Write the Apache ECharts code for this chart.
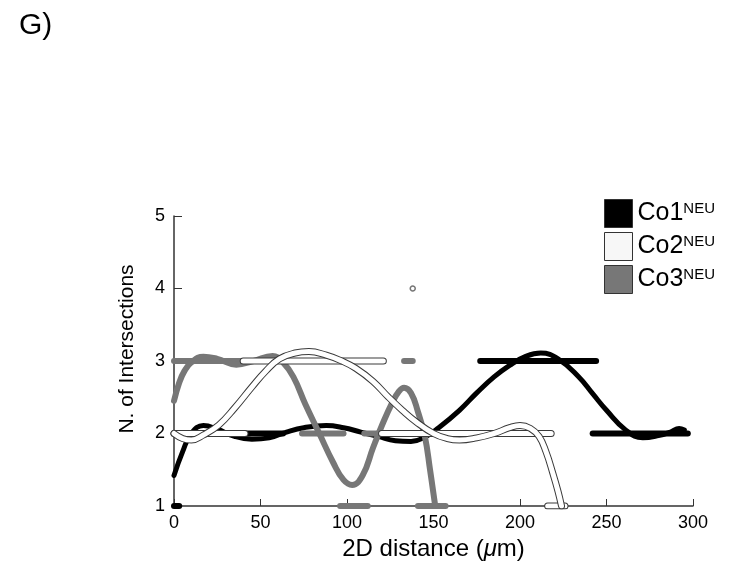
<!DOCTYPE html>
<html><head><meta charset="utf-8">
<script src="https://cdn.jsdelivr.net/npm/echarts@6/dist/echarts.min.js"></script>
<style>html,body{margin:0;padding:0;background:#fff}#c{width:734px;height:571px}</style>
</head><body><div id="c"></div>
<script>
const FONT = '"Liberation Sans", Arial, Helvetica, sans-serif';
const xTicks = [0, 50, 100, 150, 200, 250, 300];
const yTicks = [1, 2, 3, 4, 5];
const seriesNames = ['Co1', 'Co2', 'Co3'];

// fitted curves (distance, intersections)
const co1Dist = [0, 5, 10, 17, 25, 35, 45, 55, 65, 75, 88, 98, 108, 118, 128, 137, 145, 153, 165, 175, 185, 194, 203, 212, 222, 234, 242, 250, 261, 271, 280, 287, 292, 295];
const co1Fit  = [1.42, 1.75, 2.0, 2.11, 2.06, 1.96, 1.92, 1.94, 2.02, 2.08, 2.11, 2.08, 2.02, 1.96, 1.90, 1.89, 1.95, 2.08, 2.32, 2.56, 2.78, 2.94, 3.06, 3.11, 3.03, 2.78, 2.55, 2.32, 2.05, 1.94, 1.97, 2.02, 2.07, 2.05];

const co2Dist = [0, 5, 10, 17, 26, 35, 45, 53, 61, 70, 78, 88, 97, 105, 115, 124, 132, 140, 150, 158, 165, 175, 185, 194, 200, 206, 211, 215, 219, 222, 224];
const co2Fit  = [2.0, 1.93, 1.91, 1.98, 2.12, 2.35, 2.64, 2.86, 3.03, 3.11, 3.13, 3.08, 3.0, 2.9, 2.72, 2.5, 2.32, 2.16, 2.0, 1.93, 1.91, 1.94, 2.0, 2.08, 2.11, 2.07, 1.96, 1.75, 1.45, 1.2, 1.0];

const co3Dist = [0, 3, 6, 10, 17, 25, 36, 46, 57, 63, 69, 76, 84, 92, 98, 103, 109, 115, 120, 126, 130, 133, 137, 141, 145, 148, 151];
const co3Fit  = [2.45, 2.7, 2.86, 2.98, 3.06, 3.03, 2.95, 3.0, 3.07, 2.98, 2.78, 2.4, 2.0, 1.6, 1.36, 1.29, 1.42, 1.8, 2.1, 2.42, 2.58, 2.63, 2.56, 2.3, 1.96, 1.5, 1.0];

// raw data runs: [from, to, intersections]
const co1Runs = [[0, 3, 1], [41, 63, 2], [177, 244, 3], [242, 297, 2]];
const co2Runs = [[0, 41, 2], [40, 121, 3], [120, 218, 2], [216, 226, 1]];
const co2Points = [[138, 4]];
const co3Runs = [[0, 60, 3], [74, 98, 2], [96, 112, 1], [110, 121, 2], [133, 138, 3], [141, 157, 1]];

const BLACK = '#000000', GRAY = '#777777', WHITE = '#ffffff', EDGE = '#3a3a3a';

function zip(xs, ys) { return xs.map((x, i) => [x, ys[i]]); }
function runSeries(runs, color, width, z, name) {
  return runs.map(r => ({
    type: 'line', name: name, data: [[r[0], r[2]], [r[1], r[2]]],
    symbol: 'none', silent: true, z: z, animation: false,
    lineStyle: { color: color, width: width, cap: 'round' }
  }));
}
function fitSeries(xs, ys, color, width, z, name) {
  return {
    type: 'line', name: name, data: zip(xs, ys), smooth: 0.45,
    symbol: 'none', silent: true, z: z, animation: false,
    itemStyle: { color: color },
    lineStyle: { color: color, width: width, cap: 'round', join: 'round' }
  };
}

const series = [].concat(
  runSeries(co1Runs, BLACK, 6, 2, 'Co1 raw'),
  [fitSeries(co1Dist, co1Fit, BLACK, 5, 3, 'Co1')],
  runSeries(co3Runs, GRAY, 6, 4, 'Co3 raw'),
  [fitSeries(co3Dist, co3Fit, GRAY, 6, 5, 'Co3')],
  runSeries(co2Runs, EDGE, 7, 6, 'Co2 raw edge'),
  runSeries(co2Runs, WHITE, 5, 7, 'Co2 raw'),
  [fitSeries(co2Dist, co2Fit, EDGE, 7, 8, 'Co2 edge')],
  [fitSeries(co2Dist, co2Fit, WHITE, 5, 9, 'Co2')],
  [{
    type: 'scatter', name: 'Co2 pt', data: co2Points, symbol: 'circle', symbolSize: 5,
    z: 10, silent: true, animation: false,
    itemStyle: { color: WHITE, borderColor: '#555', borderWidth: 1.5 }
  }]
);

const chart = echarts.init(document.getElementById('c'), null, { renderer: 'canvas' });
chart.setOption({
  backgroundColor: '#ffffff',
  animation: false,
  title: {
    text: 'G)', left: 19, top: 11, padding: 0,
    textStyle: { fontSize: 30, fontWeight: 'normal', color: '#000', fontFamily: FONT }
  },
  grid: { left: 174, right: 41, top: 216, bottom: 65, containLabel: false },
  legend: {
    orient: 'vertical', left: 604, top: 199, padding: 0, itemWidth: 28, itemHeight: 28, itemGap: 4,
    icon: 'rect', selectedMode: false,
    data: [
      { name: 'Co1', icon: 'rect', itemStyle: { color: BLACK, borderColor: '#333', borderWidth: 1 } },
      { name: 'Co2', icon: 'rect', itemStyle: { color: '#f7f7f7', borderColor: '#333', borderWidth: 1 } },
      { name: 'Co3', icon: 'rect', itemStyle: { color: GRAY, borderColor: '#333', borderWidth: 1 } }
    ],
    formatter: n => '{a|' + n + '}{b|NEU}',
    textStyle: {
      rich: {
        a: { fontSize: 25, color: '#000', fontFamily: FONT },
        b: { fontSize: 15, color: '#000', fontFamily: FONT, verticalAlign: 'top' }
      }
    }
  },
  xAxis: {
    type: 'value', min: xTicks[0], max: xTicks[xTicks.length - 1], interval: 50,
    name: '2D distance ({i|μ}m)', nameLocation: 'middle', nameGap: 29,
    nameTextStyle: {
      fontSize: 24, color: '#000', fontFamily: FONT,
      rich: { i: { fontSize: 24, fontStyle: 'italic', color: '#000', fontFamily: FONT } }
    },
    axisLine: { show: true, lineStyle: { color: '#333', width: 1.5 } },
    axisTick: { show: true, inside: true, length: 7, lineStyle: { color: '#333', width: 1 } },
    axisLabel: { fontSize: 18, color: '#000', margin: 8, fontFamily: FONT },
    splitLine: { show: false }
  },
  yAxis: {
    type: 'value', min: yTicks[0], max: yTicks[yTicks.length - 1], interval: 1,
    name: 'N. of Intersections', nameLocation: 'middle', nameGap: 36,
    nameTextStyle: { fontSize: 21, color: '#000', fontFamily: FONT, padding: [0, 0, 0, 24] },
    axisLine: { show: true, lineStyle: { color: '#333', width: 1.5 } },
    axisTick: { show: true, inside: true, length: 8, lineStyle: { color: '#333', width: 1 } },
    axisLabel: { fontSize: 18, color: '#000', margin: 9, fontFamily: FONT },
    splitLine: { show: false }
  },
  series: series
});
</script>
</body></html>
